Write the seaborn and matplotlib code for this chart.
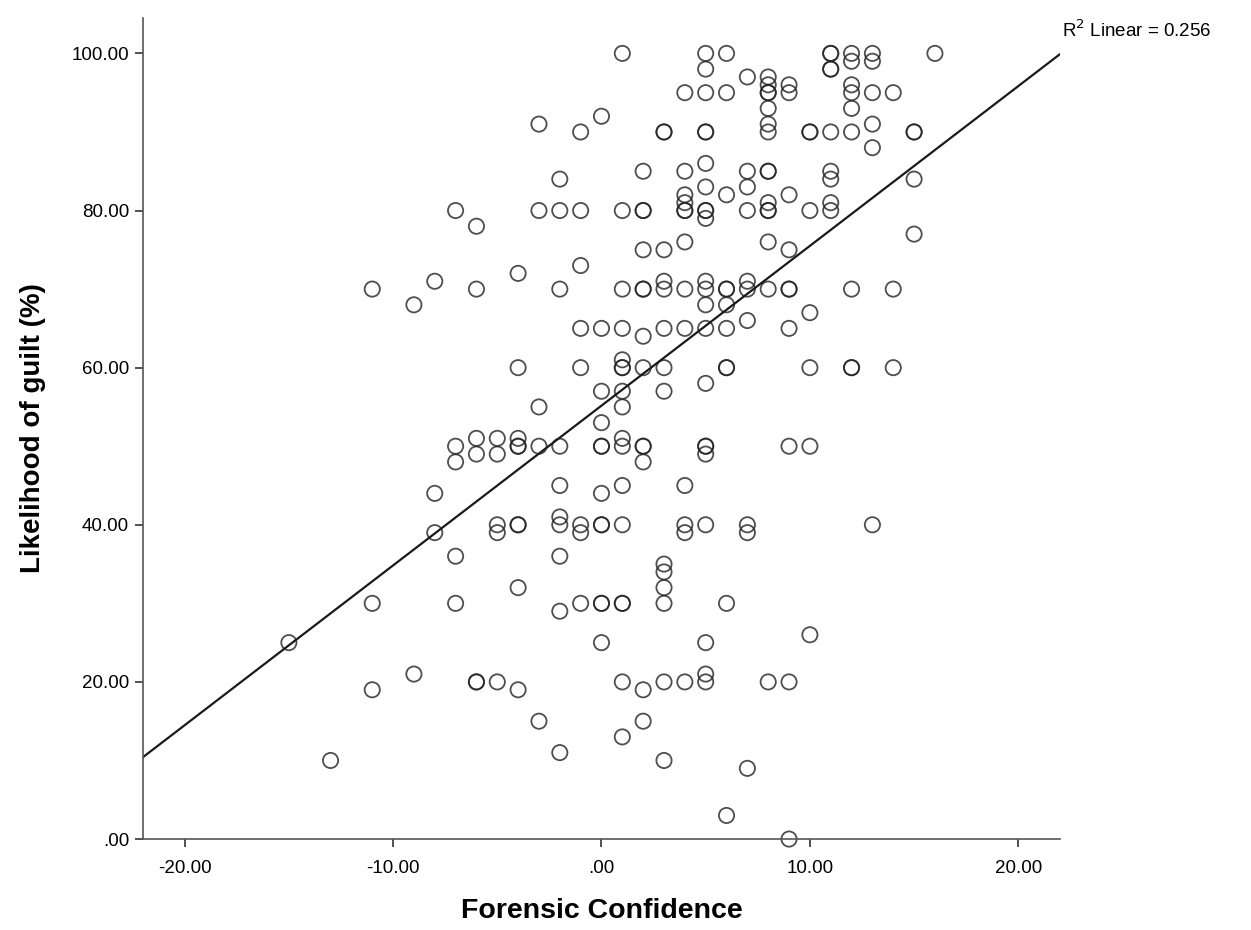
import numpy as np
import pandas as pd
import matplotlib
matplotlib.use("Agg")
import matplotlib.pyplot as plt
import seaborn as sns

# forensic confidence levels and the guilt ratings observed at each level
conf_levels = [-15, -13, -11, -9, -8, -7, -6, -5, -4, -3, -2, -1, 0, 1, 2, 3,
               4, 5, 6, 7, 8, 9, 10, 11, 12, 13, 14, 15, 16]
guilt_by_level = [
    [25],
    [10],
    [70, 30, 19],
    [68, 21],
    [71, 44, 39],
    [80, 50, 48, 36, 30],
    [78, 70, 51, 49, 20, 20],
    [51, 49, 40, 39, 20],
    [72, 60, 51, 50, 50, 40, 40, 32, 19],
    [91, 80, 55, 50, 15],
    [84, 80, 70, 50, 45, 41, 40, 36, 29, 11],
    [90, 80, 73, 65, 60, 40, 39, 30],
    [92, 65, 57, 53, 50, 50, 44, 40, 40, 30, 30, 25],
    [100, 80, 70, 65, 61, 60, 60, 57, 55, 51, 50, 45, 40, 30, 30, 20, 13],
    [85, 80, 80, 75, 70, 70, 64, 60, 50, 50, 48, 19, 15],
    [90, 90, 75, 71, 70, 65, 60, 57, 35, 34, 32, 30, 20, 10],
    [95, 85, 82, 81, 80, 80, 76, 70, 65, 45, 40, 39, 20],
    [100, 98, 95, 90, 90, 86, 83, 80, 80, 79, 71, 70, 68, 65, 58, 50, 50, 49,
     40, 25, 21, 20],
    [100, 95, 82, 70, 70, 68, 65, 60, 60, 30, 3],
    [97, 85, 83, 80, 71, 70, 66, 40, 39, 9],
    [97, 96, 95, 95, 93, 91, 90, 85, 85, 81, 80, 80, 76, 70, 20],
    [96, 95, 82, 75, 70, 70, 65, 50, 20, 0],
    [90, 90, 80, 67, 60, 50, 26],
    [100, 100, 98, 98, 90, 85, 84, 81, 80],
    [100, 99, 96, 95, 93, 90, 70, 60, 60],
    [100, 99, 95, 91, 88, 40],
    [95, 70, 60],
    [90, 90, 84, 77],
    [100],
]

x_ticks = [-20, -10, 0, 10, 20]
y_ticks = [0, 20, 40, 60, 80, 100]


def fmt(v):
    # SPSS style: ".00" for zero, "10.00" etc.
    return ".00" if v == 0 else f"{v:.2f}"


rows = [(x, y) for x, ys in zip(conf_levels, guilt_by_level) for y in ys]
df = pd.DataFrame(rows, columns=["conf", "guilt"])

sns.set_style("white")
plt.rcParams["font.family"] = ["Liberation Sans", "DejaVu Sans"]
plt.rcParams["text.color"] = "black"
plt.rcParams["axes.labelcolor"] = "black"
plt.rcParams["xtick.color"] = "black"
plt.rcParams["ytick.color"] = "black"

fig = plt.figure(figsize=(12.51, 9.30), dpi=100)
ax = fig.add_axes([0.1143, 0.0978, 0.7330, 0.8828])
ax.set_xlim(-22, 22)
ax.set_ylim(0, 104.5)

sns.regplot(
    data=df, x="conf", y="guilt", ax=ax, ci=None, truncate=False,
    scatter_kws=dict(s=120, facecolors="none", edgecolors="#222222",
                     linewidths=1.3, clip_on=False),
    line_kws=dict(color="#1a1a1a", lw=1.6),
)
ax.set_xlim(-22, 22)
ax.set_ylim(0, 104.5)

ax.set_xticks(x_ticks)
ax.set_xticklabels([fmt(v) for v in x_ticks], fontsize=13.5)
ax.set_yticks(y_ticks)
ax.set_yticklabels([fmt(v) for v in y_ticks], fontsize=13.5)
ax.tick_params(axis="x", direction="out", length=6, width=1.2, pad=9,
               color="#333333", bottom=True)
ax.tick_params(axis="y", direction="out", length=6, width=1.2, pad=4,
               color="#333333", left=True)

for side in ["top", "right"]:
    ax.spines[side].set_visible(False)
for side in ["left", "bottom"]:
    ax.spines[side].set_color("#555555")
    ax.spines[side].set_linewidth(1.2)

ax.set_xlabel("Forensic Confidence", fontsize=20.5, fontweight="bold", labelpad=15)
ax.set_ylabel("Likelihood of guilt (%)", fontsize=20, fontweight="bold", labelpad=18)

ax.text(22.1, 103, "R$^2$ Linear = 0.256", fontsize=13.5,
        ha="left", va="center", clip_on=False)

fig.savefig("out.png", dpi=100)
